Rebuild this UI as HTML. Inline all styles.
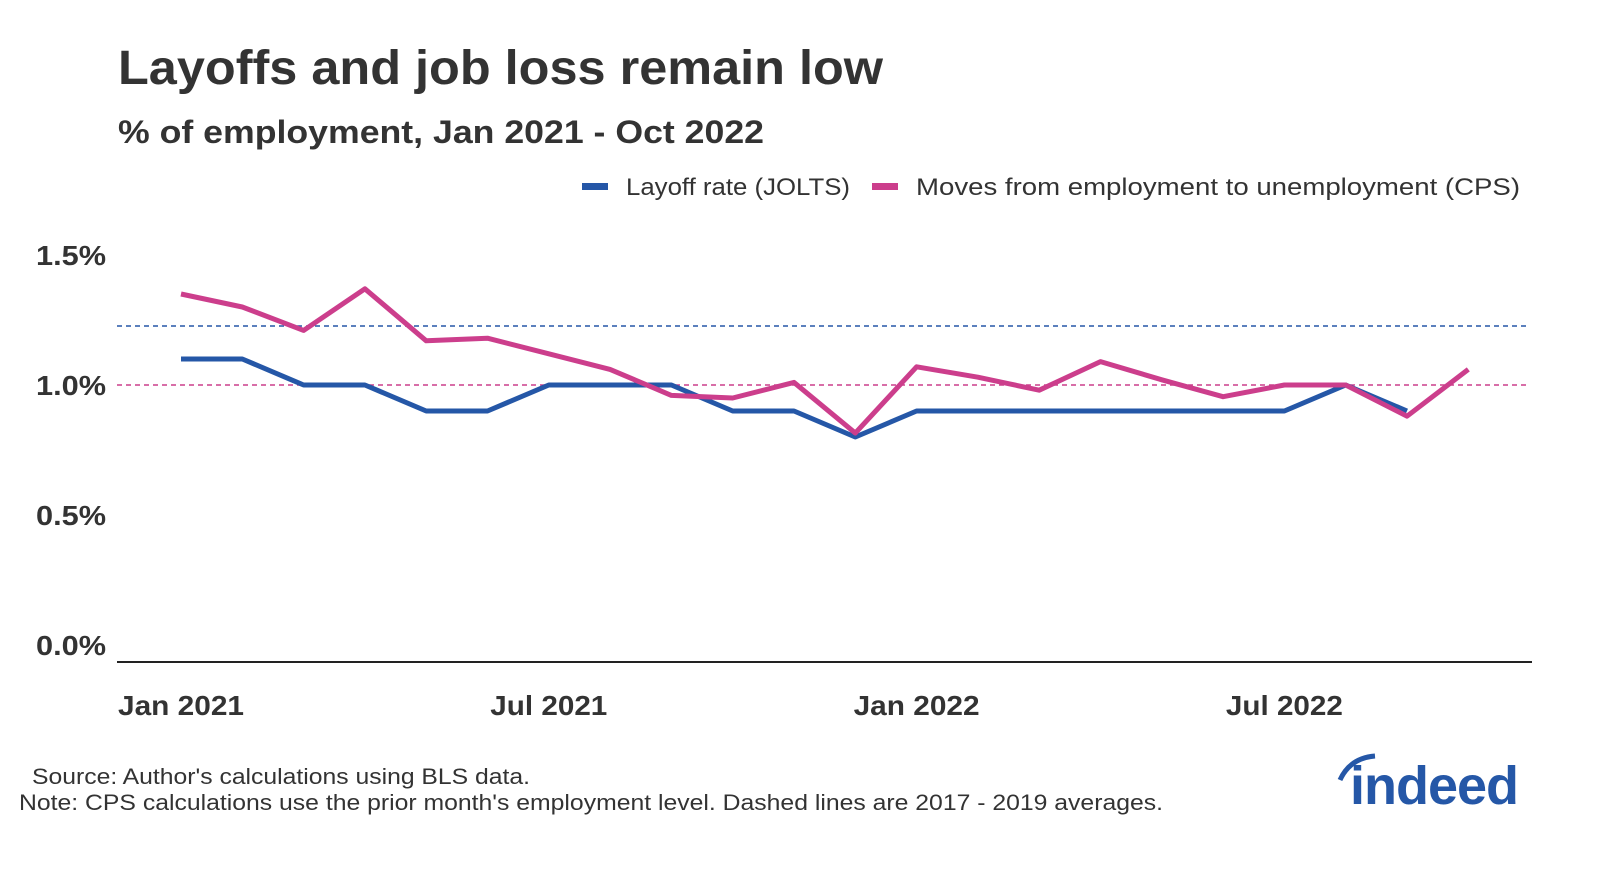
<!DOCTYPE html>
<html><head><meta charset="utf-8"><style>
html,body{margin:0;padding:0;background:#fff;}
svg{display:block;font-family:"Liberation Sans",sans-serif;}
</style></head><body>
<svg id="chart" width="1600" height="873" viewBox="0 0 1600 873">
<text x="118" y="84" font-size="48" font-weight="bold" fill="#333" textLength="765" lengthAdjust="spacingAndGlyphs">Layoffs and job loss remain low</text>
<text x="118" y="143" font-size="32" font-weight="bold" fill="#333" textLength="646" lengthAdjust="spacingAndGlyphs">% of employment, Jan 2021 - Oct 2022</text>
<g>
<rect x="582" y="183" width="26" height="7" fill="#2557a7"/>
<text x="626" y="195" font-size="24" fill="#333" textLength="224" lengthAdjust="spacingAndGlyphs">Layoff rate (JOLTS)</text>
<rect x="872" y="183" width="26" height="7" fill="#cc3e8c"/>
<text x="916" y="195" font-size="24" fill="#333" textLength="604" lengthAdjust="spacingAndGlyphs">Moves from employment to unemployment (CPS)</text>
</g>
<g id="yaxis"></g>
<g id="xaxis"></g>
<g id="marks"></g>
<line x1="117" x2="1532" y1="662" y2="662" stroke="#222" stroke-width="2"/>
<text x="32" y="784" font-size="22" fill="#333" textLength="498" lengthAdjust="spacingAndGlyphs">Source: Author's calculations using BLS data.</text>
<text x="19" y="810" font-size="22" fill="#333" textLength="1144" lengthAdjust="spacingAndGlyphs">Note: CPS calculations use the prior month's employment level. Dashed lines are 2017 - 2019 averages.</text>
<g>
<path d="M1340 780 Q1350 758 1375 756" stroke="#2557a7" stroke-width="5" fill="none"/>
<text x="1350" y="804" font-size="54" font-weight="bold" fill="#2557a7" letter-spacing="-1">indeed</text>
</g>
</svg>
<script>
const months=["Jan 2021","Feb 2021","Mar 2021","Apr 2021","May 2021","Jun 2021","Jul 2021","Aug 2021","Sep 2021","Oct 2021","Nov 2021","Dec 2021","Jan 2022","Feb 2022","Mar 2022","Apr 2022","May 2022","Jun 2022","Jul 2022","Aug 2022","Sep 2022","Oct 2022"];
const layoffRate=[1.1,1.1,1.0,1.0,0.9,0.9,1.0,1.0,1.0,0.9,0.9,0.8,0.9,0.9,0.9,0.9,0.9,0.9,0.9,1.0,0.9];
const movesRate=[1.35,1.30,1.21,1.37,1.17,1.18,1.12,1.06,0.96,0.95,1.01,0.815,1.07,1.03,0.98,1.09,1.02,0.955,1.0,1.0,0.88,1.06];
const layoffAvg=1.227;
const movesAvg=1.0;
const yTicks=[0,0.5,1.0,1.5];
const yTickLabels=["0.0%","0.5%","1.0%","1.5%"];
const xTickIdx=[0,6,12,18];
const xTickLabels=["Jan 2021","Jul 2021","Jan 2022","Jul 2022"];

const NS="http://www.w3.org/2000/svg";
const x=i=>181+i*61.3;
const y=v=>645-260*v;
function mk(tag,attrs,parent){const e=document.createElementNS(NS,tag);for(const k in attrs)e.setAttribute(k,attrs[k]);parent.appendChild(e);return e;}
const ya=document.getElementById('yaxis'),xa=document.getElementById('xaxis'),mg=document.getElementById('marks');
yTicks.forEach((t,i)=>{const e=mk('text',{x:106,y:y(t)+10,'font-size':28,'font-weight':'bold',fill:'#333','text-anchor':'end',textLength:70,lengthAdjust:'spacingAndGlyphs'},ya);e.textContent=yTickLabels[i];

});
xTickIdx.forEach((m,i)=>{const e=mk('text',{x:x(m),y:715,'font-size':28,'font-weight':'bold',fill:'#333','text-anchor':'middle',textLength:(xTickLabels[i].startsWith('Jan')?126:117),lengthAdjust:'spacingAndGlyphs'},xa);e.textContent=xTickLabels[i];

});
const d1=mk('line',{x1:117,x2:1530,y1:y(layoffAvg),y2:y(layoffAvg),stroke:'#2557a7','stroke-width':1.5,'stroke-dasharray':'5 4'},mg);


const d2=mk('line',{x1:117,x2:1530,y1:y(movesAvg),y2:y(movesAvg),stroke:'#cc3e8c','stroke-width':1.5,'stroke-dasharray':'5 4'},mg);


const l1=mk('polyline',{points:layoffRate.map((v,i)=>x(i)+','+y(v)).join(' '),fill:'none',stroke:'#2557a7','stroke-width':5,'stroke-linejoin':'round'},mg);


const l2=mk('polyline',{points:movesRate.map((v,i)=>x(i)+','+y(v)).join(' '),fill:'none',stroke:'#cc3e8c','stroke-width':5,'stroke-linejoin':'round'},mg);


</script>
</body></html>
